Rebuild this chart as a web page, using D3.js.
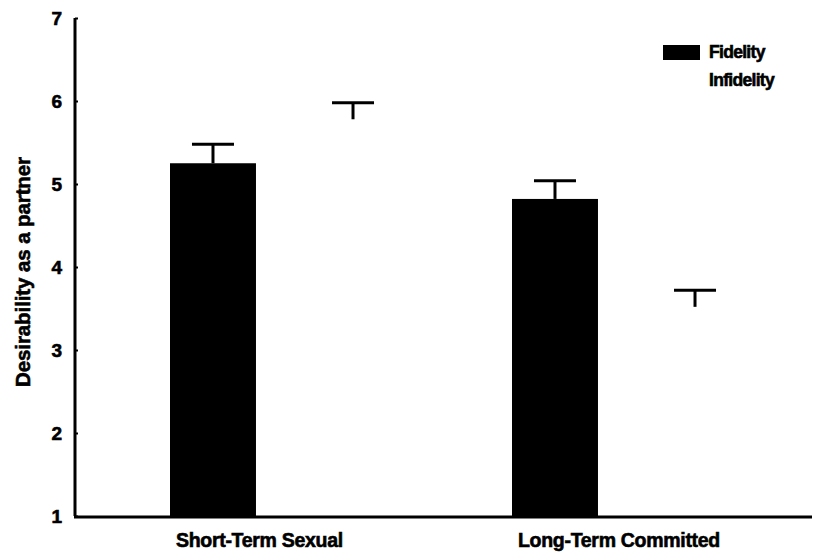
<!DOCTYPE html>
<html>
<head>
<meta charset="utf-8">
<script src="https://cdn.jsdelivr.net/npm/d3@7"></script>
<style>
  body { margin: 0; background: #fff; }
  text { font-family: "Liberation Sans", Arial, sans-serif; font-weight: bold; fill: #000; stroke: #000; stroke-width: 0.6px; }
</style>
</head>
<body>
<script>
const categories = ["Short-Term Sexual", "Long-Term Committed"];
const seriesNames = ["Fidelity", "Infidelity"];
const fidelity = [5.25, 4.82];
const fidelityErr = [0.23, 0.22];
const infidelity = [5.78, 3.52];
const infidelityErr = [0.2, 0.2];
const yTicks = [1, 2, 3, 4, 5, 6, 7];

const width = 820,
  height = 556,
  margin = { top: 18, right: 8, bottom: 40, left: 75 };

const colors = { Fidelity: "#000", Infidelity: "#fff" };
const groupWidth = 226;

const rows = categories.map((c, i) => ({
  category: c,
  values: [
    { name: "Fidelity", value: fidelity[i], err: fidelityErr[i] },
    { name: "Infidelity", value: infidelity[i], err: infidelityErr[i] }
  ]
}));

const svg = d3.select("body")
  .append("svg")
  .attr("width", width)
  .attr("height", height);

const x0 = d3.scaleBand()
  .domain(categories)
  .range([112, 796])
  .paddingInner(0)
  .paddingOuter(0);

const x1 = d3.scaleBand()
  .domain(seriesNames)
  .range([0, groupWidth])
  .paddingInner(0.386);

const y = d3.scaleLinear()
  .domain([1, 7])
  .range([516, margin.top]);

const groupStart = c => x0(c) + (x0.bandwidth() - groupWidth) / 2;

const group = svg.selectAll("g.group")
  .data(rows)
  .enter()
  .append("g")
  .attr("class", "group")
  .attr("transform", d => `translate(${groupStart(d.category)}, 0)`);

group.selectAll("rect")
  .data(d => d.values)
  .enter()
  .append("rect")
  .attr("x", d => x1(d.name))
  .attr("y", d => y(d.value))
  .attr("width", x1.bandwidth())
  .attr("height", d => y(1) - y(d.value))
  .attr("fill", d => colors[d.name]);

// error bars, upward only
const err = group.selectAll("g.err")
  .data(d => d.values)
  .enter()
  .append("g")
  .attr("class", "err")
  .attr("stroke", "#000")
  .attr("stroke-width", 3);

err.append("line")
  .attr("x1", d => x1(d.name) + x1.bandwidth() / 2)
  .attr("x2", d => x1(d.name) + x1.bandwidth() / 2)
  .attr("y1", d => y(d.value))
  .attr("y2", d => y(d.value + d.err));

err.append("line")
  .attr("x1", d => x1(d.name) + x1.bandwidth() / 2 - 21)
  .attr("x2", d => x1(d.name) + x1.bandwidth() / 2 + 21)
  .attr("y1", d => y(d.value + d.err))
  .attr("y2", d => y(d.value + d.err));

// y axis
const yAxis = svg.append("g")
  .attr("transform", `translate(${margin.left}, 0)`)
  .call(d3.axisLeft(y).tickValues(yTicks).tickSize(-3).tickPadding(13).tickFormat(d3.format("d")));
yAxis.select(".domain").attr("stroke-width", 3).attr("d", `M0,${y(7)}V${y(1)}`);
yAxis.selectAll(".tick line").attr("stroke-width", 2);
yAxis.selectAll("text").style("font-size", "19px").attr("font-family", null).attr("fill", null);

// baseline
svg.append("line")
  .attr("x1", margin.left - 1)
  .attr("x2", width - margin.right)
  .attr("y1", y(1) + 1)
  .attr("y2", y(1) + 1)
  .attr("stroke", "#000")
  .attr("stroke-width", 3);

// x labels
svg.selectAll("text.xlabel")
  .data(categories)
  .enter()
  .append("text")
  .attr("class", "xlabel")
  .attr("x", d => groupStart(d) + 6)
  .attr("y", 547)
  .style("font-size", "19.5px")
  .style("letter-spacing", "-0.3px")
  .text(d => d);

// y title
svg.append("text")
  .attr("transform", "translate(30, 272) rotate(-90)")
  .attr("text-anchor", "middle")
  .style("font-size", "20.5px")
  .style("letter-spacing", "-0.1px")
  .text("Desirability as a partner");

// legend
const legend = svg.selectAll("g.legend")
  .data(seriesNames)
  .enter()
  .append("g")
  .attr("class", "legend")
  .attr("transform", (d, i) => `translate(663, ${45 + i * 28})`);

legend.append("rect")
  .attr("width", 37)
  .attr("height", 15)
  .attr("fill", d => colors[d]);

legend.append("text")
  .attr("x", 46)
  .attr("y", 13)
  .style("font-size", "17.5px")
  .style("letter-spacing", "-0.7px")
  .text(d => d);
</script>
</body>
</html>
